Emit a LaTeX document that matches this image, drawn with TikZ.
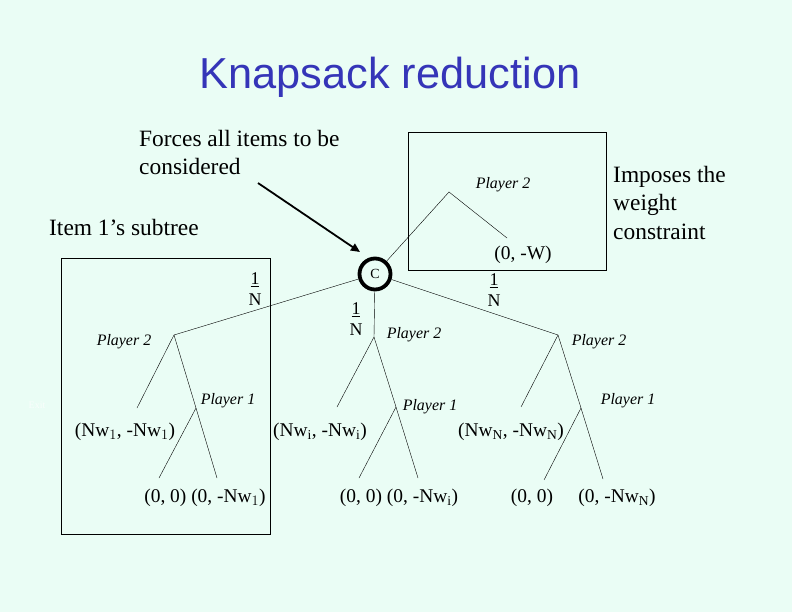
\documentclass[tikz,border=0pt]{standalone}
\usepackage{fontspec}
\setmainfont{Liberation Serif}
\newfontfamily\titlefont{Liberation Sans}
\usetikzlibrary{arrows.meta}
\definecolor{slidebg}{HTML}{EAFDF5}
\definecolor{titleblue}{HTML}{3535B8}

\begin{document}
\begin{tikzpicture}[x=1bp, y=-1bp,
  note/.style={font=\fontsize{23.5}{28.5}\selectfont, align=left,
               anchor=north west, inner sep=0pt},
  player/.style={font=\fontsize{16}{18}\selectfont\itshape, inner sep=0pt},
  payoff/.style={font=\fontsize{19.5}{22}\selectfont, inner sep=0pt},
  prob/.style={font=\fontsize{18}{20.5}\selectfont, align=center, inner sep=0pt},
  region/.style={draw, line width=0.8bp},
  arrow/.style={-{Triangle[length=9bp, width=8bp]}, line width=1.8bp}
]

%% Slide background
\fill[slidebg] (0,0) rectangle (792,612);
\useasboundingbox (0,0) rectangle (792,612);

%% Title
\node[font=\fontsize{43.5}{48}\selectfont\titlefont, text=titleblue] (title)
  at (390,77) {Knapsack reduction};

%% Notes
\node[note] (forces) at (139,130) {Forces all items to be\\considered};
\node[note] (item) at (49,219) {Item 1's subtree};
\node[note] (imposes) at (613,166) {Imposes the\\weight\\constraint};

%% Frames
\draw[region] (408,132) rectangle (606,270);
\draw[region] (61,258) rectangle (270,534);

%% Chance node
\node[circle, draw, line width=3.8bp, minimum size=31bp, inner sep=0pt,
      font=\fontsize{14}{16}\selectfont] (c) at (375,274) {C};

%% Weight constraint branch
\coordinate (ba) at (449,192);
\coordinate (bleaf) at (507,238);
\node[player] (bp2) at (503,185) {Player 2};
\node[payoff] (bpay) at (523,255) {(0, -W)};
\draw (c) -- (ba) -- (bleaf);

%% Item 1
\coordinate (la) at (174,335);
\coordinate (lp) at (196,408);
\coordinate (lexit) at (137,408);
\coordinate (lleft) at (159,478);
\coordinate (lright) at (217,478);
\node[player] (lp2) at (124,342) {Player 2};
\node[player] (lp1) at (228,401) {Player 1};
\node[payoff] (lpay1) at (125,432) {(Nw$_1$, -Nw$_1$)};
\node[payoff] (lpay2) at (205,498) {(0, 0) (0, -Nw$_1$)};
\node[prob] (lprob) at (255,289) {\underline{1}\\N};
\draw (c) -- (la);
\draw (la) -- (lexit);
\draw (la) -- (lp) -- (lright);
\draw (lp) -- (lleft);

%% Item i
\coordinate (ma) at (374,337);
\coordinate (mp) at (396,407);
\coordinate (mexit) at (337,407);
\coordinate (mleft) at (359,478);
\coordinate (mright) at (418,478);
\node[player] (mp2) at (414,335) {Player 2};
\node[player] (mp1) at (430,407) {Player 1};
\node[payoff] (mpay1) at (320,432) {(Nw$_\mathrm{i}$, -Nw$_\mathrm{i}$)};
\node[payoff] (mpay2) at (399,498) {(0, 0) (0, -Nw$_\mathrm{i}$)};
\node[prob] (mprob) at (356,319) {\underline{1}\\N};
\draw (c) -- (ma);
\draw (ma) -- (mexit);
\draw (ma) -- (mp) -- (mright);
\draw (mp) -- (mleft);

%% Item N
\coordinate (ra) at (558,335);
\coordinate (rp) at (581,408);
\coordinate (rexit) at (521,407);
\coordinate (rleft) at (544,480);
\coordinate (rright) at (603,479);
\node[player] (rp2) at (599,342) {Player 2};
\node[player] (rp1) at (628,401) {Player 1};
\node[payoff] (rpay1) at (511,432) {(Nw$_\mathrm{N}$, -Nw$_\mathrm{N}$)};
\node[payoff] (rpay2) at (532,498) {(0, 0)};
\node[payoff] (rpay3) at (617,498) {(0, -Nw$_\mathrm{N}$)};
\node[prob] (rprob) at (494,290) {\underline{1}\\N};
\draw (c) -- (ra);
\draw (ra) -- (rexit);
\draw (ra) -- (rp) -- (rright);
\draw (rp) -- (rleft);

%% Pointer to the chance node
\coordinate (ftail) at (258,183);
\coordinate (ftip) at (360,252);
\draw[arrow] (ftail) -- (ftip);

%% Faint leftover text
\node[font=\fontsize{10}{12}\selectfont, text=white!70!slidebg] (exit)
  at (37,405) {Exit};

\end{tikzpicture}
\end{document}
